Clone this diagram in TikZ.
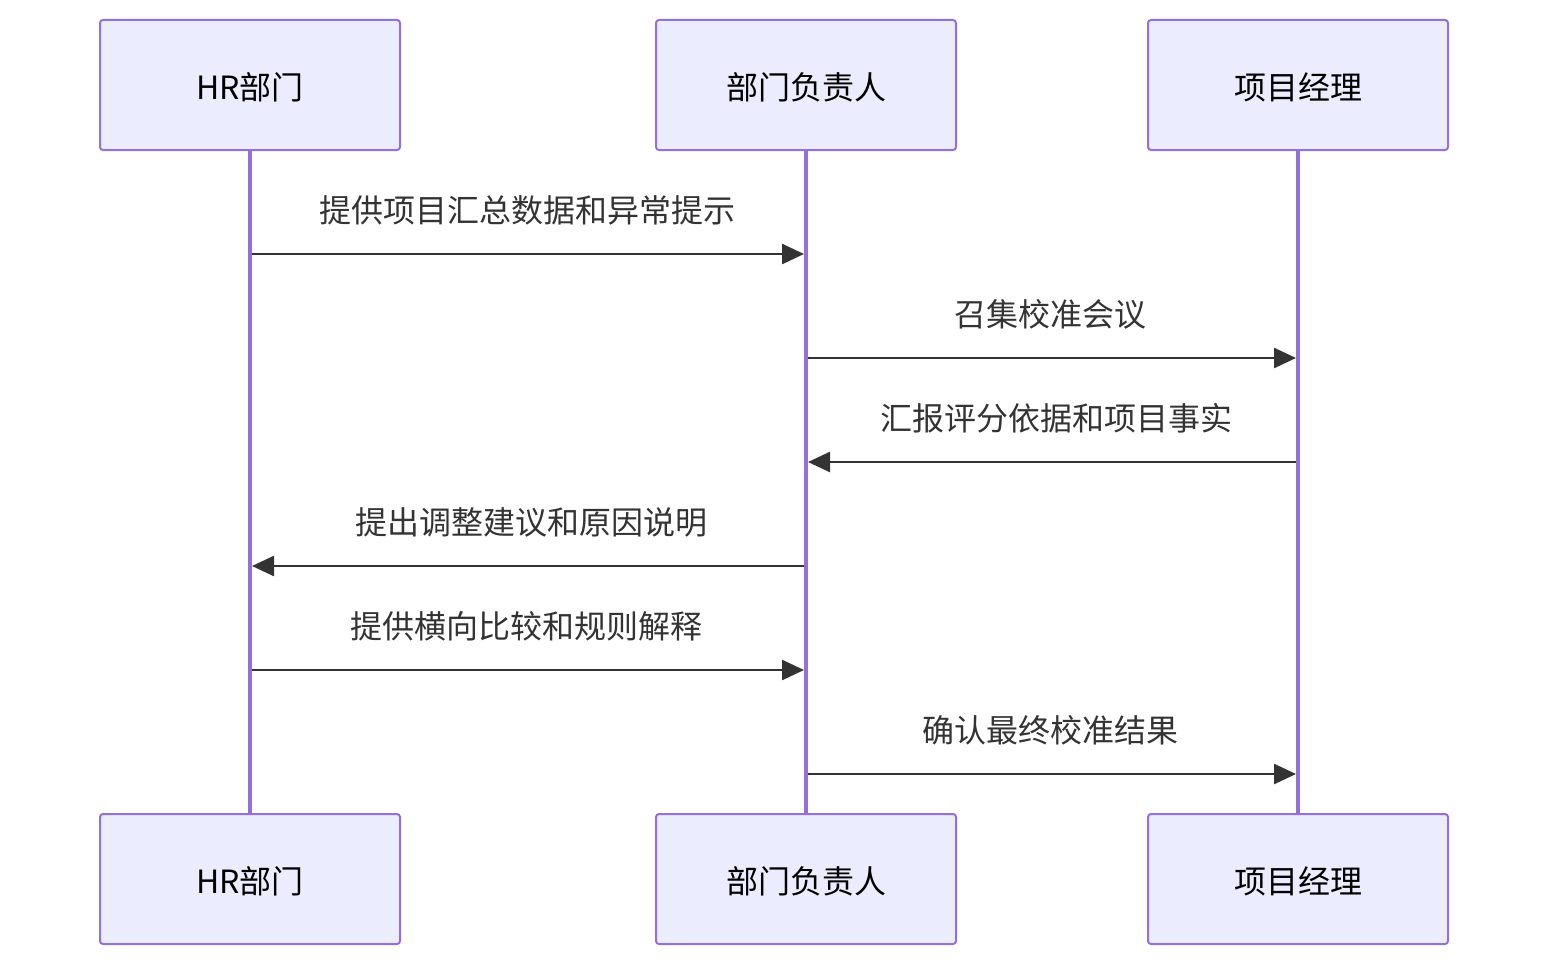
\documentclass[tikz,border=0pt]{standalone}
\usepackage{fontspec}
\setmainfont{Noto Sans CJK SC}
\usetikzlibrary{arrows.meta}
\definecolor{actfill}{HTML}{ECECFF}
\definecolor{actdraw}{HTML}{9370DB}
\definecolor{msg}{HTML}{333333}
\tikzset{
  actor/.style={draw=actdraw, fill=actfill, line width=2pt, rounded corners=3pt,
    minimum width=300pt, minimum height=130pt, inner sep=0pt, outer sep=0pt,
    font=\fontsize{32}{38}\selectfont, text=black},
  life/.style={draw=actdraw, line width=3.5pt},
  msgline/.style={draw=msg, line width=2.5pt, -{Triangle[length=22pt,width=20pt]}},
  msglabel/.style={font=\fontsize{32}{38}\selectfont, text=msg, inner sep=0pt},
  acttext/.style={font=\fontsize{32}{38}\selectfont, text=black, inner sep=0pt},
}
\begin{document}
\begin{tikzpicture}
\useasboundingbox (0,0) rectangle (1548pt,-966pt);
% lifelines
\coordinate (hrT) at (250pt,-150pt); \coordinate (hrB) at (250pt,-814pt);
\coordinate (dmT) at (806pt,-150pt); \coordinate (dmB) at (806pt,-814pt);
\coordinate (pmT) at (1298pt,-150pt); \coordinate (pmB) at (1298pt,-814pt);
\draw[life] (hrT) -- (hrB);
\draw[life] (dmT) -- (dmB);
\draw[life] (pmT) -- (pmB);
% actors
\node[actor] (hr1) at (250pt,-85pt) {};
\node[actor] (dm1) at (806pt,-85pt) {};
\node[actor] (pm1) at (1298pt,-85pt) {};
\node[actor] (hr2) at (250pt,-879pt) {};
\node[actor] (dm2) at (806pt,-879pt) {};
\node[actor] (pm2) at (1298pt,-879pt) {};
\node[acttext] (hr1t) at (250pt,-87pt) {HR部门};
\node[acttext] (dm1t) at (806pt,-87pt) {部门负责人};
\node[acttext] (pm1t) at (1298pt,-87pt) {项目经理};
\node[acttext] (hr2t) at (250pt,-881pt) {HR部门};
\node[acttext] (dm2t) at (806pt,-881pt) {部门负责人};
\node[acttext] (pm2t) at (1298pt,-881pt) {项目经理};
% message endpoints
\coordinate (a1s) at (252pt,-254pt); \coordinate (a1e) at (804pt,-254pt);
\coordinate (a2s) at (808pt,-358pt); \coordinate (a2e) at (1296pt,-358pt);
\coordinate (a3s) at (1296pt,-462pt); \coordinate (a3e) at (808pt,-462pt);
\coordinate (a4s) at (804pt,-566pt); \coordinate (a4e) at (252pt,-566pt);
\coordinate (a5s) at (252pt,-670pt); \coordinate (a5e) at (804pt,-670pt);
\coordinate (a6s) at (808pt,-774pt); \coordinate (a6e) at (1296pt,-774pt);
\draw[msgline] (a1s) -- (a1e);
\draw[msgline] (a2s) -- (a2e);
\draw[msgline] (a3s) -- (a3e);
\draw[msgline] (a4s) -- (a4e);
\draw[msgline] (a5s) -- (a5e);
\draw[msgline] (a6s) -- (a6e);
\node[msglabel] (l1) at (527pt,-210pt) {提供项目汇总数据和异常提示};
\node[msglabel] (l2) at (1050pt,-314pt) {召集校准会议};
\node[msglabel] (l3) at (1056pt,-418pt) {汇报评分依据和项目事实};
\node[msglabel] (l4) at (531pt,-522pt) {提出调整建议和原因说明};
\node[msglabel] (l5) at (526pt,-626pt) {提供横向比较和规则解释};
\node[msglabel] (l6) at (1050pt,-730pt) {确认最终校准结果};
\end{tikzpicture}
\end{document}
